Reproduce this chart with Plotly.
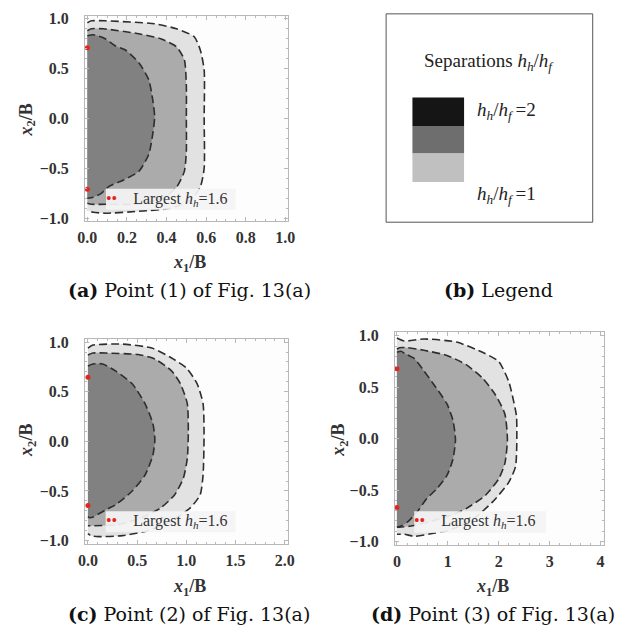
import plotly.graph_objects as go

# ---- contour boundaries (x1/B, x2/B), each runs from the x1=0 edge round to the x1=0 edge ----
# Panel (a): point (1)
A_LIGHT_X = [0, 0.02, 0.09, 0.34, 0.45, 0.54, 0.57, 0.59, 0.59, 0.59, 0.57, 0.52, 0.42, 0.26, 0.09, 0.03, 0]
A_LIGHT_Y = [0.96, 0.98, 0.98, 0.95, 0.90, 0.82, 0.69, 0.49, 0.0, -0.50, -0.69, -0.82, -0.90, -0.93, -0.95, -0.94, -0.92]
A_MED_X = [0, 0.02, 0.08, 0.26, 0.37, 0.45, 0.49, 0.50, 0.50, 0.50, 0.49, 0.45, 0.38, 0.25, 0.10, 0.02, 0]
A_MED_Y = [0.88, 0.90, 0.90, 0.85, 0.80, 0.72, 0.59, 0.33, 0.0, -0.33, -0.53, -0.69, -0.80, -0.86, -0.86, -0.86, -0.85]
A_DARK_X = [0, 0.03, 0.09, 0.14, 0.19, 0.26, 0.31, 0.33, 0.34, 0.33, 0.31, 0.26, 0.18, 0.11, 0.07, 0.03, 0]
A_DARK_Y = [0.83, 0.84, 0.80, 0.73, 0.69, 0.56, 0.39, 0.19, 0.02, -0.16, -0.36, -0.53, -0.62, -0.68, -0.75, -0.79, -0.80]
A_PEAK_Y = [0.71, -0.71]

# Panel (c): point (2)
C_LIGHT_X = [0, 0.05, 0.35, 0.65, 0.85, 1.00, 1.11, 1.17, 1.18, 1.17, 1.14, 1.04, 0.85, 0.61, 0.35, 0.11, 0.03, 0]
C_LIGHT_Y = [0.94, 0.97, 0.98, 0.94, 0.84, 0.74, 0.58, 0.38, 0.08, -0.34, -0.54, -0.67, -0.80, -0.90, -0.95, -0.96, -0.95, -0.93]
C_MED_X = [0, 0.05, 0.18, 0.51, 0.68, 0.85, 0.94, 1.01, 1.02, 1.01, 0.97, 0.88, 0.74, 0.55, 0.30, 0.05, 0]
C_MED_Y = [0.87, 0.89, 0.89, 0.875, 0.83, 0.71, 0.58, 0.38, 0.08, -0.17, -0.37, -0.54, -0.67, -0.77, -0.84, -0.85, -0.85]
C_DARK_X = [0, 0.05, 0.15, 0.28, 0.45, 0.58, 0.66, 0.68, 0.66, 0.58, 0.45, 0.28, 0.18, 0.11, 0.06, 0.02, 0]
C_DARK_Y = [0.76, 0.78, 0.78, 0.71, 0.58, 0.38, 0.18, 0.02, -0.14, -0.34, -0.50, -0.64, -0.69, -0.73, -0.76, -0.77, -0.76]
C_PEAK_Y = [0.645, -0.645]

# Panel (d): point (3)
D_LIGHT_X = [0, 0.15, 0.53, 1.17, 1.68, 2.00, 2.20, 2.32, 2.35, 2.33, 2.19, 1.87, 1.50, 1.04, 0.72, 0.34, 0.15, 0]
D_LIGHT_Y = [0.98, 0.95, 0.97, 0.94, 0.84, 0.75, 0.55, 0.30, 0.21, -0.27, -0.43, -0.62, -0.78, -0.89, -0.92, -0.95, -0.93, -0.93]
D_MED_X = [0, 0.05, 0.21, 0.53, 0.98, 1.36, 1.68, 1.93, 2.12, 2.17, 2.12, 2.00, 1.74, 1.36, 1.10, 0.70, 0.27, 0.05, 0]
D_MED_Y = [0.87, 0.885, 0.885, 0.86, 0.81, 0.72, 0.59, 0.43, 0.24, -0.01, -0.24, -0.39, -0.55, -0.68, -0.74, -0.80, -0.85, -0.86, -0.86]
D_DARK_X = [0, 0.08, 0.15, 0.34, 0.53, 0.72, 0.98, 1.10, 1.15, 1.10, 0.98, 0.78, 0.59, 0.40, 0.21, 0.08, 0]
D_DARK_Y = [0.84, 0.85, 0.83, 0.78, 0.66, 0.53, 0.34, 0.18, -0.01, -0.20, -0.36, -0.49, -0.58, -0.71, -0.81, -0.85, -0.86]
D_PEAK_Y = [0.68, -0.67]

# tick labels
A_XTICKS = [0, 0.2, 0.4, 0.6, 0.8, 1.0]
A_XTEXT = ["0.0", "0.2", "0.4", "0.6", "0.8", "1.0"]
C_XTICKS = [0, 0.5, 1.0, 1.5, 2.0]
C_XTEXT = ["0.0", "0.5", "1.0", "1.5", "2.0"]
D_XTICKS = [0, 1, 2, 3, 4]
D_XTEXT = ["0", "1", "2", "3", "4"]
YTICKS = [-1.0, -0.5, 0.0, 0.5, 1.0]
YTEXT = ["\u22121.0", "\u22120.5", "0.0", "0.5", "1.0"]

LEGEND_LABELS = ["<i>h<sub>h</sub></i>/<i>h<sub>f</sub></i>\u2009=2",
                 "<i>h<sub>h</sub></i>/<i>h<sub>f</sub></i>\u2009=1"]
CAPTIONS = ["<b>(a)</b> Point (1) of Fig. 13(a)", "<b>(b)</b> Legend",
            "<b>(c)</b> Point (2) of Fig. 13(a)", "<b>(d)</b> Point (3) of Fig. 13(a)"]

# ---- style ----
W, H = 628, 640
SERIF = "DejaVu Serif"
TIMES = "Liberation Serif, DejaVu Serif, serif"
FILL_LIGHT = "#e2e2e2"
FILL_MED = "#ababab"
FILL_DARK = "#818181"
DASH_COLOR = "#2e2e2e"
FRAME = "#b8b8b8"
RED = "#e8231c"


def px_x(p):
    return p / W


def px_y(p):
    return 1 - p / H


fig = go.Figure()

panels = [
    dict(ax="", light=(A_LIGHT_X, A_LIGHT_Y), med=(A_MED_X, A_MED_Y), dark=(A_DARK_X, A_DARK_Y),
         peak=A_PEAK_Y, xt=(A_XTICKS, A_XTEXT), xr=[-0.012, 1.012], yr=[-1.03, 1.03],
         dom=(79, 287, 11, 220), box=(0.094, 0.75), xminor=0.05),
    dict(ax="2", light=(C_LIGHT_X, C_LIGHT_Y), med=(C_MED_X, C_MED_Y), dark=(C_DARK_X, C_DARK_Y),
         peak=C_PEAK_Y, xt=(C_XTICKS, C_XTEXT), xr=[-0.03, 2.03], yr=[-1.03, 1.03],
         dom=(79, 287, 340, 548), box=(0.18, 1.50), xminor=0.1),
    dict(ax="3", light=(D_LIGHT_X, D_LIGHT_Y), med=(D_MED_X, D_MED_Y), dark=(D_DARK_X, D_DARK_Y),
         peak=D_PEAK_Y, xt=(D_XTICKS, D_XTEXT), xr=[-0.04, 4.075], yr=[-1.03, 1.035],
         dom=(397, 612, 333, 549), box=(0.34, 2.93), xminor=0.2),
]

tickfont = dict(family=TIMES, size=16, color="#333333", weight="bold")
title_font = dict(family=TIMES, size=18, color="#333333")

shapes = []
annotations = []

for p in panels:
    xa, ya = "x" + p["ax"], "y" + p["ax"]
    for (xs, ys), col in [(p["light"], FILL_LIGHT), (p["med"], FILL_MED), (p["dark"], FILL_DARK)]:
        fig.add_trace(go.Scatter(
            x=xs, y=ys, xaxis=xa, yaxis=ya, mode="lines", fill="toself", fillcolor=col,
            line=dict(color=DASH_COLOR, width=1.6, dash="8px,4px", shape="spline", smoothing=0.6),
            hoverinfo="skip", showlegend=False))
    fig.add_trace(go.Scatter(
        x=[0] * len(p["peak"]), y=p["peak"], xaxis=xa, yaxis=ya, mode="markers",
        marker=dict(color=RED, size=5), cliponaxis=False, hoverinfo="skip", showlegend=False))

    l, r, t, b = p["dom"]
    axis_common = dict(showgrid=False, zeroline=False, showline=True, linecolor=FRAME, linewidth=1,
                       mirror="allticks", ticks="inside", ticklen=4, tickcolor=FRAME,
                       tickfont=tickfont)
    fig.update_layout(**{
        ("xaxis" + p["ax"]): dict(axis_common, domain=[px_x(l), px_x(r)], range=p["xr"],
                                  tickvals=p["xt"][0], ticktext=p["xt"][1], anchor=ya,
                                  ticklabelstandoff=2,
                                  minor=dict(ticks="inside", ticklen=2, dtick=p["xminor"], tickcolor=FRAME)),
        ("yaxis" + p["ax"]): dict(axis_common, domain=[px_y(b), px_y(t)], range=p["yr"],
                                  tickvals=YTICKS, ticktext=YTEXT, anchor=xa,
                                  ticklabelstandoff=12,
                                  minor=dict(ticks="inside", ticklen=2, dtick=0.1, tickcolor=FRAME)),
    })

    # "Largest h_h" label box
    x0, x1 = p["box"]
    shapes.append(dict(type="rect", xref=xa, yref=ya, x0=x0, x1=x1, y0=-0.915, y1=-0.705,
                       fillcolor="rgba(244,244,244,0.92)", line=dict(width=0), layer="above"))
    annotations.append(dict(xref=xa, yref=ya, x=x0, y=-0.81, xanchor="left", yanchor="middle",
                            showarrow=False, font=dict(family=TIMES, size=16, color="#333333"),
                            text="<span style='color:%s'>\u2022\u2022</span>    Largest <i>h<sub>h</sub></i>=1.6" % RED,
                            xshift=-2))

# axis titles
XT = "<b><i>x</i><sub>1</sub>/B</b>"
YT = "<b><i>x</i><sub>2</sub>/B</b>"
for (cx, cy) in [(186, 263), (186, 593), (497, 593)]:
    annotations.append(dict(xref="paper", yref="paper", x=px_x(cx), y=px_y(cy), text=XT,
                            showarrow=False, font=title_font, xanchor="center", yanchor="middle"))
for (cx, cy) in [(20, 117), (20, 443), (340, 443)]:
    annotations.append(dict(xref="paper", yref="paper", x=px_x(cx), y=px_y(cy), text=YT, textangle=-90,
                            showarrow=False, font=title_font, xanchor="center", yanchor="middle"))

# legend panel
shapes.append(dict(type="rect", xref="paper", yref="paper", x0=px_x(388), x1=px_x(600),
                   y0=px_y(221), y1=px_y(9), line=dict(color="#555555", width=1), fillcolor="white",
                   layer="below"))
for (top, bot, col) in [(94, 123, "#151515"), (123, 151, "#6e6e6e"), (151, 180, "#c0c0c0")]:
    shapes.append(dict(type="rect", xref="paper", yref="paper", x0=px_x(415), x1=px_x(468),
                       y0=px_y(bot), y1=px_y(top), fillcolor=col, line=dict(width=0)))
annotations.append(dict(xref="paper", yref="paper", x=px_x(494), y=px_y(58),
                        text="Separations <i>h<sub>h</sub></i>/<i>h<sub>f</sub></i>", showarrow=False,
                        font=dict(family=TIMES, size=19, color="#222222"), xanchor="center", yanchor="middle"))
for txt, cy in zip(LEGEND_LABELS, [108, 193]):
    annotations.append(dict(xref="paper", yref="paper", x=px_x(479), y=px_y(cy), text=txt,
                            showarrow=False, font=dict(family=TIMES, size=19, color="#222222"),
                            xanchor="left", yanchor="middle"))

# captions
for txt, (cx, cy) in zip(CAPTIONS, [(186, 290), (503, 290), (186, 620), (498, 620)]):
    annotations.append(dict(xref="paper", yref="paper", x=px_x(cx), y=px_y(cy), text=txt,
                            showarrow=False, font=dict(family=SERIF, size=19, color="#111111"),
                            xanchor="center", yanchor="middle"))

fig.update_layout(width=W, height=H, margin=dict(l=0, r=0, t=0, b=0),
                  paper_bgcolor="white", plot_bgcolor="#fdfdfd",
                  shapes=shapes, annotations=annotations, showlegend=False)

fig.write_html("out.html")
